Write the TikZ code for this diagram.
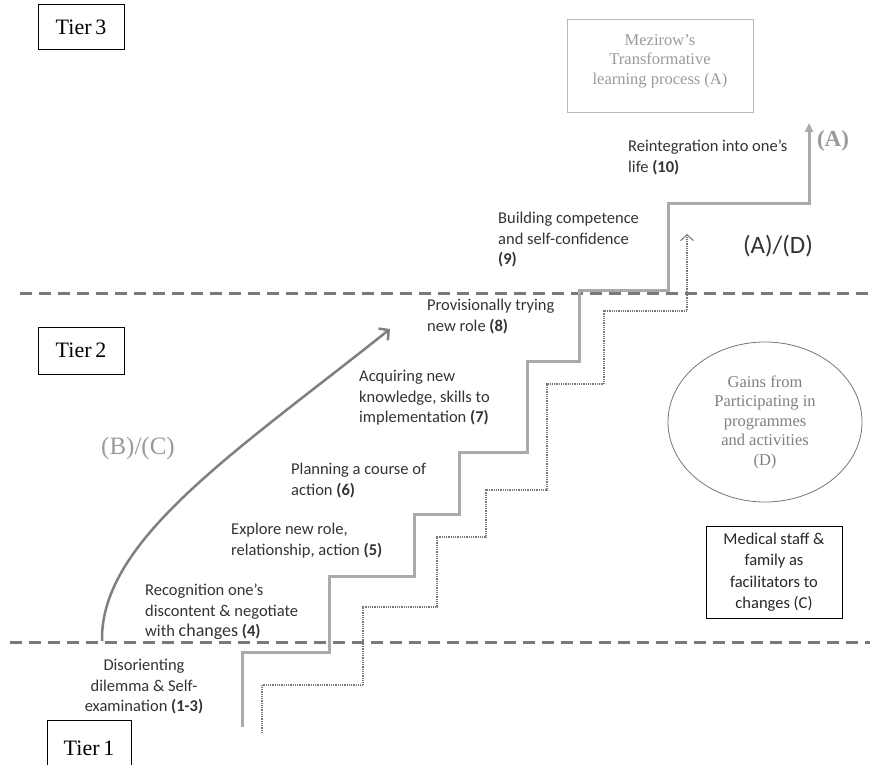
\documentclass[tikz,border=0pt]{standalone}
\usepackage{fontspec}
\setmainfont{Liberation Serif}
\newfontfamily\sansf{Carlito}
\usetikzlibrary{arrows.meta,shapes.geometric}
\definecolor{txtdark}{HTML}{333333}
\definecolor{stairgray}{HTML}{AAAAAA}
\definecolor{dashgray}{HTML}{7A7A7A}
\definecolor{softgray}{HTML}{9A9A9A}
\definecolor{curvegray}{HTML}{808080}
\definecolor{dotgray}{HTML}{777777}
\begin{document}
\begin{tikzpicture}[x=1pt,y=-1pt,
  tierbox/.style={draw=black,line width=1pt,inner sep=0pt,minimum width=86pt,
    font=\fontsize{22}{24}\selectfont},
  steptext/.style={anchor=north west,align=left,inner sep=0pt,text=txtdark,
    font=\sansf\fontsize{16.5}{20.5}\selectfont},
  dashline/.style={draw=dashgray,line width=3pt,dash pattern=on 12pt off 7pt},
  stairline/.style={draw=stairgray,line width=3pt},
  dotline/.style={draw=dotgray,line width=1.2pt,dash pattern=on 1pt off 0.8pt}]
\clip (0,0) rectangle (870,765);
\fill[white] (0,0) rectangle (870,765);
% tier boxes
\node[tierbox,minimum height=45pt] (tier3) at (81,27.5) {Tier\,3};
\node[tierbox,minimum height=47pt] (tier2) at (81,350.5) {Tier\,2};
\node[tierbox,minimum width=84pt,minimum height=56pt] (tier1) at (89,748) {Tier\,1};
% dashed tier borders
\draw[dashline] (20,293) -- (870,293);
\draw[dashline] (10,642) -- (870,642);
% Mezirow box
\node[draw=softgray!70,line width=1pt,minimum width=186pt,minimum height=93pt,inner sep=0pt] (mezbox) at (660,66.5) {};
\node[align=center,text=softgray,inner sep=0pt,font=\fontsize{16.5}{19.5}\selectfont] (mez) at (660,61) {Mezirow’s\\Transformative\\learning process (A)};
% stairs
\draw[stairline,-{Triangle[length=9pt,width=8pt]}] (242,727) |- (329,652) |- (414,576) |- (459,514) |- (527,452) |- (579,361) |- (668,290) |- (809,203) -- (809,123);
\draw[dotline,-{Straight Barb[length=6pt,width=13pt,line width=1pt]}] (262,733) |- (363,685) |- (437,607) |- (486,537) |- (547,490) |- (604,384) |- (687,311) -- (687,234);
% curved arrow
\coordinate (cstart) at (102,641);
\coordinate (cend) at (390,329);
\draw[draw=curvegray,line width=2.5pt,-{Straight Barb[length=7pt,width=15pt,line width=2.5pt]}] (cstart) .. controls (100,540) and (237,451) .. (cend);
% labels
\node[text=softgray,font=\bfseries\fontsize{23}{25}\selectfont,inner sep=0pt] (alab) at (833,141) {(A)};
\node[text=txtdark,font=\sansf\fontsize{25}{27}\selectfont,inner sep=0pt] (adlab) at (778,246) {(A)/(D)};
\node[text=softgray,font=\fontsize{25}{27}\selectfont,inner sep=0pt] (bclab) at (138,448) {(B)/(C)};
% ellipse
\node[ellipse,draw=dotgray,line width=0.8pt,minimum width=194pt,minimum height=160pt,inner sep=0pt,
  align=center,text=curvegray,font=\fontsize{16.5}{19.5}\selectfont] (gains) at (765,422) {Gains from\\Participating in\\programmes\\and activities\\(D)};
% medical box
\node[draw=black,line width=1pt,minimum width=136pt,minimum height=92pt,inner sep=0pt,align=center,
  text=black!85,font=\sansf\fontsize{16.5}{21.5}\selectfont] (med) at (774,572) {Medical staff \&\\family as\\facilitators to\\changes (C)};
% step texts
\node[steptext,anchor=north,align=center] (s1) at (144,659) {Disorienting\\dilemma \& Self-\\examination \textbf{(1-3)}};
\node[steptext] (s4) at (145,584) {Recognition one’s\\discontent \& negotiate\\with {\fontsize{18}{20.5}\selectfont changes} \textbf{(4)}};
\node[steptext] (s5) at (231,523) {Explore new role,\\relationship, action \textbf{(5)}};
\node[steptext] (s6) at (291,463) {Planning a course of\\action \textbf{(6)}};
\node[steptext] (s7) at (359,370) {Acquiring new\\knowledge, skills to\\implementation \textbf{(7)}};
\node[steptext] (s8) at (427,299) {Provisionally trying\\new role \textbf{(8)}};
\node[steptext] (s9) at (498,212) {Building competence\\and self-confidence\\\textbf{(9)}};
\node[steptext] (s10) at (628,140) {Reintegration into one’s\\life \textbf{(10)}};
\end{tikzpicture}
\end{document}
